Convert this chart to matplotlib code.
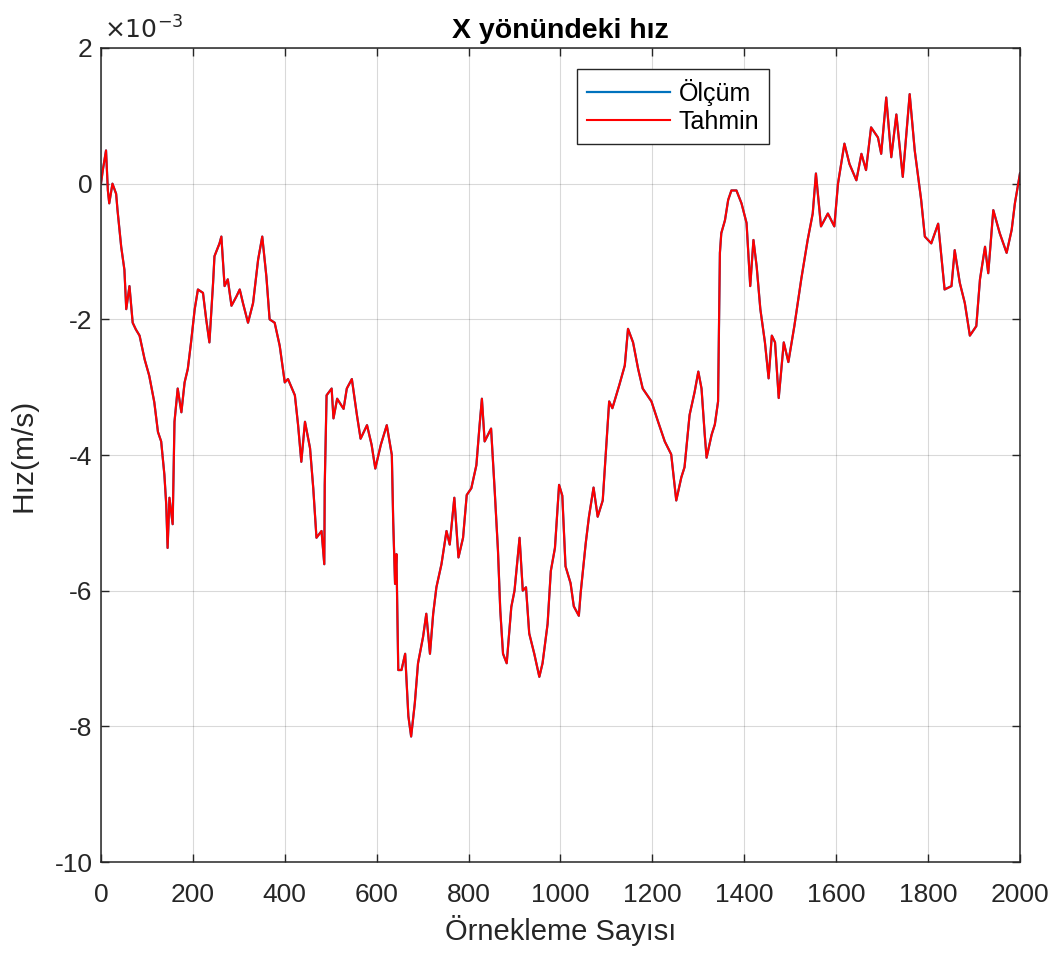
import matplotlib

matplotlib.use("Agg")
import matplotlib.pyplot as plt
from matplotlib.ticker import FuncFormatter

# sample index and velocity (in units of 1e-3 m/s)
sample = [
    0, 4, 11, 15, 18, 25, 33, 36, 44, 51, 55, 62, 69, 76, 84, 95, 105, 116, 124, 131,
    138, 142, 145, 149, 156, 160, 167, 175, 182, 189, 196, 204, 211, 222, 229, 236,
    244, 247, 258, 262, 269, 276, 284, 295, 302, 309, 320, 331, 342, 351, 360, 367,
    378, 389, 400, 407, 422, 429, 436, 444, 455, 462, 469, 480, 486, 487, 491, 502,
    506, 514, 528, 535, 546, 557, 565, 579, 589, 597, 609, 622, 633, 636, 640, 643,
    647, 654, 662, 669, 675, 683, 690, 701, 708, 716, 723, 730, 741, 752, 759, 769,
    778, 788, 796, 806, 817, 824, 829, 835, 849, 857, 864, 869, 875, 883, 893, 900,
    911, 918, 925, 932, 943, 954, 961, 972, 979, 988, 997, 1004, 1011, 1022, 1029,
    1040, 1044, 1055, 1062, 1072, 1081, 1092, 1099, 1106, 1113, 1128, 1140, 1147,
    1158, 1169, 1179, 1198, 1212, 1227, 1241, 1252, 1263, 1270, 1281, 1292, 1300,
    1307, 1314, 1318, 1329, 1336, 1343, 1347, 1350, 1358, 1365, 1372, 1383, 1394,
    1405, 1413, 1420, 1427, 1435, 1445, 1453, 1460, 1467, 1475, 1486, 1496, 1509,
    1524, 1538, 1549, 1556, 1567, 1582, 1596, 1604, 1618, 1629, 1644, 1655, 1665,
    1676, 1691, 1698, 1709, 1720, 1731, 1745, 1760, 1771, 1785, 1793, 1807, 1822,
    1836, 1851, 1858, 1869, 1880, 1891, 1905, 1913, 1924, 1931, 1942, 1956, 1971,
    1982, 1989, 2000,
]
olcum = [
    0.0, 0.2, 0.49, -0.1, -0.29, 0.0, -0.15, -0.39, -0.93, -1.27, -1.85, -1.51, -2.05,
    -2.15, -2.24, -2.59, -2.83, -3.22, -3.66, -3.80, -4.29, -4.73, -5.37, -4.63, -5.02,
    -3.51, -3.02, -3.37, -2.93, -2.73, -2.34, -1.85, -1.56, -1.61, -2.0, -2.34, -1.46,
    -1.07, -0.88, -0.78, -1.51, -1.41, -1.80, -1.66, -1.56, -1.76, -2.05, -1.76, -1.12,
    -0.78, -1.37, -2.0, -2.05, -2.39, -2.93, -2.88, -3.12, -3.56, -4.10, -3.51, -3.90,
    -4.49, -5.22, -5.12, -5.61, -4.44, -3.12, -3.02, -3.46, -3.17, -3.32, -3.02, -2.88,
    -3.41, -3.76, -3.56, -3.85, -4.20, -3.85, -3.56, -4.0, -4.98, -5.90, -5.46, -7.17,
    -7.17, -6.93, -7.85, -8.15, -7.66, -7.07, -6.68, -6.34, -6.93, -6.34, -5.95, -5.61,
    -5.12, -5.32, -4.63, -5.51, -5.22, -4.59, -4.49, -4.15, -3.56, -3.17, -3.80, -3.61,
    -4.54, -5.41, -6.29, -6.93, -7.07, -6.24, -6.0, -5.22, -6.0, -5.95, -6.63, -6.93,
    -7.27, -7.07, -6.49, -5.71, -5.37, -4.44, -4.6, -5.64, -5.89, -6.23, -6.37, -6.03,
    -5.30, -4.91, -4.48, -4.91, -4.67, -3.94, -3.21, -3.31, -2.97, -2.68, -2.14, -2.34,
    -2.73, -3.02, -3.21, -3.50, -3.80, -3.99, -4.67, -4.33, -4.18, -3.41, -3.07, -2.77,
    -3.02, -3.70, -4.04, -3.70, -3.55, -3.21, -1.02, -0.73, -0.54, -0.24, -0.10, -0.10,
    -0.29, -0.58, -1.51, -0.83, -1.22, -1.85, -2.34, -2.87, -2.24, -2.34, -3.16, -2.34,
    -2.63, -2.1, -1.41, -0.83, -0.44, 0.15, -0.63, -0.44, -0.63, 0.0, 0.59, 0.29, 0.05,
    0.44, 0.2, 0.83, 0.68, 0.44, 1.27, 0.39, 1.02, 0.1, 1.32, 0.49, -0.24, -0.78, -0.88,
    -0.59, -1.56, -1.51, -0.98, -1.46, -1.76, -2.24, -2.1, -1.41, -0.93, -1.32, -0.39,
    -0.73, -1.02, -0.68, -0.29, 0.15,
]
tahmin = olcum  # the estimate overlays the measurement in the reference

x_ticks = [0, 200, 400, 600, 800, 1000, 1200, 1400, 1600, 1800, 2000]
y_ticks = [-10, -8, -6, -4, -2, 0, 2]

plt.rcParams["font.family"] = ["Liberation Sans", "DejaVu Sans"]
plt.rcParams["axes.unicode_minus"] = False

ink = "#262626"
fig = plt.figure(figsize=(10.64, 9.56), dpi=100)
ax = fig.add_axes([0.0949, 0.0983, 0.8637, 0.8515])

ax.plot(sample, [v * 1e-3 for v in olcum], color="#0072BD", lw=1.6, label="Ölçüm")
ax.plot(sample, [v * 1e-3 for v in tahmin], color="#FF0000", lw=1.5, label="Tahmin")

ax.set_xlim(0, 2000)
ax.set_ylim(-10e-3, 2e-3)
ax.set_xticks(x_ticks)
ax.set_yticks([t * 1e-3 for t in y_ticks])
ax.yaxis.set_major_formatter(FuncFormatter(lambda v, _: f"{v * 1e3:g}"))
ax.grid(True, color="#000000", alpha=0.15, lw=0.8)
ax.tick_params(direction="in", top=True, right=True, length=6, width=1,
               colors=ink, labelsize=19)
ax.tick_params(axis="x", pad=15)
ax.tick_params(axis="y", pad=6)
for spine in ax.spines.values():
    spine.set_color(ink)
    spine.set_linewidth(1.1)

ax.set_title("X yönündeki hız", fontsize=20.5, fontweight="bold", color="#000000", pad=7)
ax.set_xlabel("Örnekleme Sayısı", fontsize=21, color=ink, labelpad=6)
ax.set_ylabel("Hız(m/s)", fontsize=21.5, color=ink, labelpad=12)
ax.text(0.003, 1.006, r"$\times10^{-3}$", transform=ax.transAxes, fontsize=18,
        color=ink, ha="left", va="bottom")

leg = ax.legend(loc="upper right", bbox_to_anchor=(0.727, 0.974), borderaxespad=0,
                fancybox=False, framealpha=1, edgecolor=ink, fontsize=18,
                handlelength=3.3, borderpad=0.4, labelspacing=0.15, handletextpad=0.35)
leg.get_frame().set_linewidth(1.0)

fig.savefig("out.png", dpi=100)
